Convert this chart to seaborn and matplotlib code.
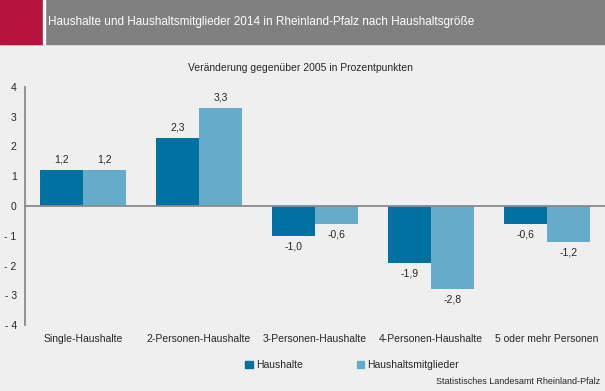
import pandas as pd
import matplotlib
matplotlib.use("Agg")
import matplotlib.pyplot as plt
import seaborn as sns
from matplotlib.patches import Rectangle

# Daten
categories = ["Single-Haushalte", "2-Personen-Haushalte", "3-Personen-Haushalte",
              "4-Personen-Haushalte", "5 oder mehr Personen"]
haushalte = [1.2, 2.3, -1.0, -1.9, -0.6]
mitglieder = [1.2, 3.3, -0.6, -2.8, -1.2]
series = ["Haushalte", "Haushaltsmitglieder"]
yticks = [-4, -3, -2, -1, 0, 1, 2, 3, 4]

df = pd.DataFrame({
    "kategorie": categories * 2,
    "reihe": [series[0]] * 5 + [series[1]] * 5,
    "wert": haushalte + mitglieder,
})

sns.set_style("white")
plt.rcParams["font.family"] = ["Liberation Sans", "DejaVu Sans"]

bg = "#EEEFEE"
farben = ["#0071A1", "#67ABCB"]
grau = "#8A8A8A"

fig = plt.figure(figsize=(6.05, 3.91), dpi=100, facecolor=bg)
ax = fig.add_axes([25 / 605, 1 - 325 / 391, 580 / 605, 238 / 391])
ax.set_facecolor(bg)

sns.barplot(data=df, x="kategorie", y="wert", hue="reihe", palette=farben,
            width=0.74, saturation=1, ax=ax, legend=False, linewidth=0)

ax.set_xlim(-0.5, 4.5)
ax.set_ylim(-4, 4)
ax.set_yticks(yticks)
ax.set_yticklabels([str(t) if t >= 0 else "- " + str(-t) for t in yticks], fontsize=7.5)
ax.tick_params(axis="y", direction="out", length=3, color=grau, pad=3)

for s in ["top", "right"]:
    ax.spines[s].set_visible(False)
ax.spines["left"].set_color(grau)
ax.spines["bottom"].set_color(grau)
ax.spines["bottom"].set_position(("data", 0))
ax.spines["bottom"].set_linewidth(1.3)
ax.spines["left"].set_linewidth(1.3)

ax.set_xticks(range(len(categories)))
ax.set_xticklabels([])
ax.tick_params(axis="x", which="major", length=0)
ax.set_xticks([i + 0.5 for i in range(len(categories) - 1)], minor=True)
ax.tick_params(axis="x", which="minor", direction="inout", length=8, color=grau, width=1.2)
ax.set_xlabel("")
ax.set_ylabel("")

trans = matplotlib.transforms.blended_transform_factory(ax.transData, ax.transAxes)
for i, c in enumerate(categories):
    ax.text(i, -0.058, c, transform=trans, ha="center", va="center", fontsize=7.5)

for cont in ax.containers:
    ax.bar_label(cont, labels=[f"{v:.1f}".replace(".", ",") for v in cont.datavalues],
                 padding=4, fontsize=7.5)

# Kopfzeile
fig.patches.append(Rectangle((0, 1 - 44 / 391), 1, 44 / 391, transform=fig.transFigure,
                             color="#808080", zorder=0))
fig.patches.append(Rectangle((0, 1 - 44 / 391), 43 / 605, 44 / 391, transform=fig.transFigure,
                             color="#B5123E", zorder=1))
fig.patches.append(Rectangle((43 / 605, 1 - 44 / 391), 2 / 605, 44 / 391, transform=fig.transFigure,
                             color="white", zorder=1))
fig.text(48 / 605, 1 - 22 / 391,
         "Haushalte und Haushaltsmitglieder 2014 in Rheinland-Pfalz nach Haushaltsgröße",
         color="white", fontsize=8.5, va="center", ha="left")

fig.text(300 / 605, 1 - 68 / 391, "Veränderung gegenüber 2005 in Prozentpunkten",
         fontsize=7.5, ha="center", va="center")

handles = [Rectangle((0, 0), 1, 1, color=f) for f in farben]
fig.legend(handles, series, loc="center", bbox_to_anchor=(352 / 605, 1 - 365 / 391),
           ncol=2, frameon=False, fontsize=7.5, handlelength=0.7, handleheight=0.7,
           handletextpad=0.3, columnspacing=5.2)

fig.text(600 / 605, 1 - 381 / 391, "Statistisches Landesamt Rheinland-Pfalz",
         fontsize=6.5, ha="right", va="center")

fig.savefig("out.png", dpi=100, facecolor=bg)
